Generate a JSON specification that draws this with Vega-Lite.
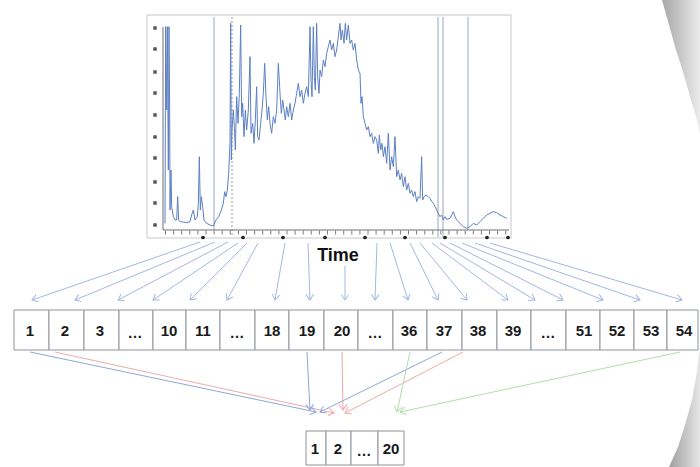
{
  "$schema": "https://vega.github.io/schema/vega-lite/v6.json",
  "width": 700,
  "height": 467,
  "autosize": {"type": "fit", "contains": "padding"},
  "padding": 0,
  "background": "#ffffff",
  "config": {"view": {"stroke": null}},
  "datasets": {
    "bandTop": [
      {"y": 0, "x": 662, "x2": 700}, {"y": 25, "x": 669, "x2": 700}, {"y": 50, "x": 676, "x2": 700},
      {"y": 75, "x": 684, "x2": 700}, {"y": 100, "x": 691, "x2": 700}, {"y": 120, "x": 697, "x2": 700}, {"y": 135, "x": 700, "x2": 700}
    ],
    "bandBottom": [
      {"y": 345, "x": 700, "x2": 700}, {"y": 372, "x": 697, "x2": 700}, {"y": 400, "x": 692, "x2": 700},
      {"y": 425, "x": 685, "x2": 700}, {"y": 447, "x": 678, "x2": 700}, {"y": 467, "x": 669, "x2": 700}
    ],
    "frame": [{"x": 147, "x2": 511, "y": 15, "y2": 238}],
    "cells": [
      {"x": 14, "x2": 49, "y": 310, "y2": 350}, {"x": 49, "x2": 84, "y": 310, "y2": 350},
      {"x": 84, "x2": 119, "y": 310, "y2": 350}, {"x": 119, "x2": 153, "y": 310, "y2": 350},
      {"x": 153, "x2": 186, "y": 310, "y2": 350}, {"x": 186, "x2": 220, "y": 310, "y2": 350},
      {"x": 220, "x2": 255, "y": 310, "y2": 350}, {"x": 255, "x2": 289, "y": 310, "y2": 350},
      {"x": 289, "x2": 324, "y": 310, "y2": 350}, {"x": 324, "x2": 358, "y": 310, "y2": 350},
      {"x": 358, "x2": 393, "y": 310, "y2": 350}, {"x": 393, "x2": 427, "y": 310, "y2": 350},
      {"x": 427, "x2": 462, "y": 310, "y2": 350}, {"x": 462, "x2": 497, "y": 310, "y2": 350},
      {"x": 497, "x2": 531, "y": 310, "y2": 350}, {"x": 531, "x2": 566, "y": 310, "y2": 350},
      {"x": 566, "x2": 600, "y": 310, "y2": 350}, {"x": 600, "x2": 634, "y": 310, "y2": 350},
      {"x": 634, "x2": 667, "y": 310, "y2": 350}, {"x": 667, "x2": 698, "y": 310, "y2": 350},
      {"x": 306, "x2": 326, "y": 431, "y2": 465}, {"x": 326, "x2": 351, "y": 431, "y2": 465},
      {"x": 351, "x2": 378, "y": 431, "y2": 465}, {"x": 378, "x2": 404, "y": 431, "y2": 465}
    ],
    "axes": [
      {"x": 163, "y": 27, "x2": 163, "y2": 230},
      {"x": 163, "y": 230, "x2": 509, "y2": 230}
    ],
    "xticks": [{"x": 165, "y": 232.5, "x2": 509, "y2": 232.5}],
    "vlines": [
      {"x": 214, "y": 17, "x2": 214, "y2": 230},
      {"x": 438, "y": 17, "x2": 438, "y2": 237},
      {"x": 443, "y": 17, "x2": 443, "y2": 237},
      {"x": 468, "y": 17, "x2": 468, "y2": 230}
    ],
    "dotline": [{"x": 232, "y": 17, "x2": 232, "y2": 236}],
    "ymarks": [
      {"x": 155, "y": 28}, {"x": 155, "y": 49}, {"x": 155, "y": 72}, {"x": 155, "y": 93}, {"x": 155, "y": 115},
      {"x": 155, "y": 137}, {"x": 155, "y": 158}, {"x": 155, "y": 182}, {"x": 155, "y": 203}, {"x": 155, "y": 225}
    ],
    "xdots": [
      {"x": 203, "y": 237.5}, {"x": 243, "y": 237.5}, {"x": 283, "y": 237.5}, {"x": 325, "y": 237.5}, {"x": 365, "y": 237.5},
      {"x": 405, "y": 237.5}, {"x": 445, "y": 237.5}, {"x": 487, "y": 237.5}, {"x": 508, "y": 237.5}
    ],
    "arrows": [
      {"x": 200, "y": 242, "x2": 32, "y2": 300, "kind": "fan"},
      {"x": 215, "y": 242, "x2": 75, "y2": 300, "kind": "fan"},
      {"x": 228, "y": 242, "x2": 118, "y2": 300, "kind": "fan"},
      {"x": 238, "y": 243, "x2": 153, "y2": 300, "kind": "fan"},
      {"x": 247, "y": 243, "x2": 190, "y2": 300, "kind": "fan"},
      {"x": 258, "y": 243, "x2": 227, "y2": 300, "kind": "fan"},
      {"x": 285, "y": 243, "x2": 275, "y2": 300, "kind": "fan"},
      {"x": 308, "y": 243, "x2": 310, "y2": 300, "kind": "fan"},
      {"x": 345, "y": 266, "x2": 345, "y2": 300, "kind": "fan"},
      {"x": 377, "y": 243, "x2": 375, "y2": 300, "kind": "fan"},
      {"x": 390, "y": 243, "x2": 408, "y2": 300, "kind": "fan"},
      {"x": 410, "y": 243, "x2": 438, "y2": 300, "kind": "fan"},
      {"x": 420, "y": 243, "x2": 467, "y2": 300, "kind": "fan"},
      {"x": 432, "y": 243, "x2": 508, "y2": 300, "kind": "fan"},
      {"x": 440, "y": 243, "x2": 535, "y2": 300, "kind": "fan"},
      {"x": 450, "y": 243, "x2": 563, "y2": 300, "kind": "fan"},
      {"x": 462, "y": 243, "x2": 603, "y2": 300, "kind": "fan"},
      {"x": 475, "y": 243, "x2": 640, "y2": 300, "kind": "fan"},
      {"x": 490, "y": 243, "x2": 682, "y2": 300, "kind": "fan"},
      {"x": 30, "y": 352, "x2": 316, "y2": 412, "kind": "blue"},
      {"x": 55, "y": 352, "x2": 334, "y2": 413, "kind": "red"},
      {"x": 307, "y": 352, "x2": 310, "y2": 410, "kind": "blue"},
      {"x": 342, "y": 352, "x2": 343, "y2": 410, "kind": "red"},
      {"x": 442, "y": 352, "x2": 320, "y2": 412, "kind": "blue"},
      {"x": 463, "y": 352, "x2": 345, "y2": 413, "kind": "red"},
      {"x": 410, "y": 352, "x2": 397, "y2": 412, "kind": "green"},
      {"x": 680, "y": 352, "x2": 400, "y2": 412, "kind": "green"}
    ],
    "labels": [
      {"x": 30, "y": 331, "label": "1"}, {"x": 65, "y": 331, "label": "2"}, {"x": 100, "y": 331, "label": "3"},
      {"x": 135, "y": 333, "label": "…"}, {"x": 169, "y": 331, "label": "10"}, {"x": 203, "y": 331, "label": "11"},
      {"x": 237, "y": 333, "label": "…"}, {"x": 272, "y": 331, "label": "18"}, {"x": 307, "y": 331, "label": "19"},
      {"x": 342, "y": 331, "label": "20"}, {"x": 375, "y": 333, "label": "…"}, {"x": 409, "y": 331, "label": "36"},
      {"x": 444, "y": 331, "label": "37"}, {"x": 478, "y": 331, "label": "38"}, {"x": 513, "y": 331, "label": "39"},
      {"x": 548, "y": 333, "label": "…"}, {"x": 584, "y": 331, "label": "51"}, {"x": 617, "y": 331, "label": "52"},
      {"x": 651, "y": 331, "label": "53"}, {"x": 684, "y": 331, "label": "54"},
      {"x": 315, "y": 449, "label": "1"}, {"x": 338, "y": 449, "label": "2"}, {"x": 364, "y": 451, "label": "…"},
      {"x": 391, "y": 449, "label": "20"}
    ],
    "title": [{"x": 338, "y": 256, "label": "Time"}],
    "series": [
      {"t": 5, "v": 20}, {"t": 7, "v": 610}, {"t": 10, "v": 360}, {"t": 12, "v": 610}, {"t": 15, "v": 180},
      {"t": 17, "v": 610}, {"t": 19, "v": 360}, {"t": 20, "v": 60}, {"t": 23, "v": 180}, {"t": 25, "v": 70},
      {"t": 30, "v": 40}, {"t": 35, "v": 30}, {"t": 40, "v": 30}, {"t": 43, "v": 100}, {"t": 46, "v": 30},
      {"t": 50, "v": 25}, {"t": 60, "v": 24}, {"t": 70, "v": 22}, {"t": 80, "v": 25}, {"t": 85, "v": 45},
      {"t": 90, "v": 60}, {"t": 95, "v": 30}, {"t": 102, "v": 40}, {"t": 105, "v": 80}, {"t": 108, "v": 220},
      {"t": 111, "v": 60}, {"t": 114, "v": 100}, {"t": 118, "v": 70}, {"t": 122, "v": 30}, {"t": 130, "v": 20},
      {"t": 140, "v": 15}, {"t": 150, "v": 12}, {"t": 158, "v": 30}, {"t": 166, "v": 40}, {"t": 174, "v": 60},
      {"t": 180, "v": 80}, {"t": 184, "v": 115}, {"t": 188, "v": 100}, {"t": 192, "v": 120}, {"t": 196, "v": 170},
      {"t": 200, "v": 260}, {"t": 202, "v": 620}, {"t": 204, "v": 210}, {"t": 206, "v": 300}, {"t": 210, "v": 360},
      {"t": 213, "v": 310}, {"t": 216, "v": 240}, {"t": 220, "v": 400}, {"t": 224, "v": 320}, {"t": 228, "v": 410},
      {"t": 232, "v": 615}, {"t": 235, "v": 340}, {"t": 238, "v": 380}, {"t": 242, "v": 280}, {"t": 246, "v": 360},
      {"t": 250, "v": 300}, {"t": 255, "v": 360}, {"t": 260, "v": 520}, {"t": 263, "v": 290}, {"t": 268, "v": 320},
      {"t": 272, "v": 260}, {"t": 276, "v": 330}, {"t": 280, "v": 430}, {"t": 283, "v": 280}, {"t": 287, "v": 270},
      {"t": 292, "v": 320}, {"t": 296, "v": 360}, {"t": 300, "v": 410}, {"t": 304, "v": 500}, {"t": 308, "v": 400},
      {"t": 312, "v": 330}, {"t": 316, "v": 370}, {"t": 320, "v": 320}, {"t": 325, "v": 290}, {"t": 330, "v": 340},
      {"t": 335, "v": 320}, {"t": 340, "v": 360}, {"t": 345, "v": 500}, {"t": 350, "v": 410}, {"t": 354, "v": 350},
      {"t": 358, "v": 390}, {"t": 362, "v": 360}, {"t": 366, "v": 330}, {"t": 370, "v": 370}, {"t": 375, "v": 340},
      {"t": 380, "v": 380}, {"t": 385, "v": 330}, {"t": 390, "v": 360}, {"t": 395, "v": 380}, {"t": 400, "v": 410},
      {"t": 405, "v": 440}, {"t": 410, "v": 400}, {"t": 415, "v": 420}, {"t": 420, "v": 380}, {"t": 425, "v": 410},
      {"t": 430, "v": 430}, {"t": 435, "v": 400}, {"t": 440, "v": 610}, {"t": 443, "v": 450}, {"t": 446, "v": 400},
      {"t": 450, "v": 610}, {"t": 453, "v": 460}, {"t": 456, "v": 420}, {"t": 460, "v": 620}, {"t": 463, "v": 460},
      {"t": 467, "v": 410}, {"t": 470, "v": 480}, {"t": 475, "v": 460}, {"t": 480, "v": 510}, {"t": 485, "v": 490},
      {"t": 490, "v": 530}, {"t": 495, "v": 550}, {"t": 500, "v": 570}, {"t": 505, "v": 540}, {"t": 510, "v": 560},
      {"t": 515, "v": 520}, {"t": 520, "v": 540}, {"t": 525, "v": 580}, {"t": 530, "v": 620}, {"t": 533, "v": 570},
      {"t": 537, "v": 600}, {"t": 542, "v": 560}, {"t": 546, "v": 620}, {"t": 550, "v": 570}, {"t": 555, "v": 615},
      {"t": 560, "v": 560}, {"t": 565, "v": 570}, {"t": 570, "v": 540}, {"t": 575, "v": 560}, {"t": 580, "v": 510},
      {"t": 585, "v": 480}, {"t": 590, "v": 470}, {"t": 593, "v": 380}, {"t": 596, "v": 400}, {"t": 600, "v": 340},
      {"t": 605, "v": 320}, {"t": 610, "v": 300}, {"t": 615, "v": 310}, {"t": 620, "v": 280}, {"t": 625, "v": 290},
      {"t": 630, "v": 260}, {"t": 635, "v": 280}, {"t": 640, "v": 270}, {"t": 645, "v": 230}, {"t": 648, "v": 285},
      {"t": 652, "v": 240}, {"t": 656, "v": 260}, {"t": 660, "v": 220}, {"t": 665, "v": 250}, {"t": 670, "v": 200},
      {"t": 675, "v": 290}, {"t": 680, "v": 180}, {"t": 685, "v": 220}, {"t": 690, "v": 190}, {"t": 695, "v": 280},
      {"t": 700, "v": 160}, {"t": 705, "v": 180}, {"t": 710, "v": 150}, {"t": 715, "v": 170}, {"t": 720, "v": 130},
      {"t": 725, "v": 160}, {"t": 730, "v": 120}, {"t": 735, "v": 140}, {"t": 740, "v": 110}, {"t": 745, "v": 120},
      {"t": 750, "v": 100}, {"t": 755, "v": 115}, {"t": 760, "v": 85}, {"t": 765, "v": 100}, {"t": 770, "v": 95},
      {"t": 775, "v": 220}, {"t": 778, "v": 90}, {"t": 782, "v": 100}, {"t": 788, "v": 105}, {"t": 795, "v": 100},
      {"t": 800, "v": 95}, {"t": 805, "v": 85}, {"t": 810, "v": 80}, {"t": 815, "v": 70}, {"t": 820, "v": 60},
      {"t": 825, "v": 50}, {"t": 830, "v": 40}, {"t": 835, "v": 45}, {"t": 840, "v": 30}, {"t": 845, "v": 40},
      {"t": 850, "v": 32}, {"t": 860, "v": 35}, {"t": 870, "v": 55}, {"t": 875, "v": 40}, {"t": 880, "v": 30},
      {"t": 890, "v": 20}, {"t": 900, "v": 10}, {"t": 910, "v": 5}, {"t": 920, "v": 10}, {"t": 930, "v": 20},
      {"t": 940, "v": 15}, {"t": 950, "v": 25}, {"t": 960, "v": 35}, {"t": 970, "v": 45}, {"t": 980, "v": 50},
      {"t": 990, "v": 55}, {"t": 1000, "v": 52}, {"t": 1010, "v": 45}, {"t": 1020, "v": 40}, {"t": 1030, "v": 35}
    ]
  },
  "layer": [
    {
      "encoding": {
        "x": {"field": "x", "type": "quantitative", "scale": {"domain": [0, 700], "nice": false, "zero": false}, "axis": null},
        "y": {"field": "y", "type": "quantitative", "scale": {"domain": [467, 0], "nice": false, "zero": false}, "axis": null}
      },
      "layer": [
        {
          "data": {"name": "bandTop"},
          "mark": {"type": "area", "orient": "horizontal", "color": {"gradient": "linear", "x1": 0, "y1": 0, "x2": 1, "y2": 0, "stops": [{"offset": 0, "color": "#a8a8a8"}, {"offset": 0.5, "color": "#c8c8c8"}, {"offset": 1, "color": "#ececec"}]}},
          "encoding": {"x2": {"field": "x2"}}
        },
        {
          "data": {"name": "bandBottom"},
          "mark": {"type": "area", "orient": "horizontal", "color": {"gradient": "linear", "x1": 0, "y1": 0, "x2": 1, "y2": 0, "stops": [{"offset": 0, "color": "#a0a0a0"}, {"offset": 0.5, "color": "#c2c2c2"}, {"offset": 1, "color": "#e6e6e6"}]}},
          "encoding": {"x2": {"field": "x2"}}
        },
        {
          "data": {"name": "frame"},
          "mark": {"type": "rect", "filled": false, "stroke": "#c6c6c6", "strokeWidth": 1},
          "encoding": {"x2": {"field": "x2"}, "y2": {"field": "y2"}}
        },
        {
          "data": {"name": "cells"},
          "mark": {"type": "rect", "fill": "#ffffff", "stroke": "#8e939c", "strokeWidth": 1},
          "encoding": {"x2": {"field": "x2"}, "y2": {"field": "y2"}}
        },
        {
          "data": {"name": "vlines"},
          "mark": {"type": "rule", "color": "#9aa5c2", "strokeWidth": 1},
          "encoding": {"x2": {"field": "x2"}, "y2": {"field": "y2"}}
        },
        {
          "data": {"name": "dotline"},
          "mark": {"type": "rule", "color": "#9a9a9a", "strokeWidth": 1, "strokeDash": [2, 2]},
          "encoding": {"x2": {"field": "x2"}, "y2": {"field": "y2"}}
        },
        {
          "data": {"name": "axes"},
          "mark": {"type": "rule", "color": "#6e6e6e", "strokeWidth": 1},
          "encoding": {"x2": {"field": "x2"}, "y2": {"field": "y2"}}
        },
        {
          "data": {"name": "xticks"},
          "mark": {"type": "rule", "color": "#7a7a7a", "strokeWidth": 4, "strokeDash": [1, 7.1]},
          "encoding": {"x2": {"field": "x2"}, "y2": {"field": "y2"}}
        },
        {
          "data": {"name": "ymarks"},
          "mark": {"type": "point", "shape": "square", "filled": true, "size": 12, "color": "#3a3a3a", "opacity": 0.85},
          "encoding": {}
        },
        {
          "data": {"name": "xdots"},
          "mark": {"type": "point", "shape": "circle", "filled": true, "size": 14, "color": "#222222", "opacity": 1},
          "encoding": {}
        },
        {
          "data": {"name": "arrows"},
          "mark": {"type": "rule", "strokeWidth": 1},
          "encoding": {
            "x2": {"field": "x2"},
            "y2": {"field": "y2"},
            "color": {"field": "kind", "type": "nominal", "scale": {"domain": ["fan", "blue", "red", "green"], "range": ["#a4b7e0", "#8ea7d6", "#eeaaaa", "#b4dcac"]}, "legend": null}
          }
        },
        {
          "data": {"name": "arrows"},
          "transform": [{"calculate": "atan2(datum.y2 - datum.y, datum.x2 - datum.x) * 180 / PI", "as": "ang"}],
          "mark": {"type": "point", "shape": "M-1.6,-1.1L0,0L-1.6,1.1", "filled": false, "size": 48, "strokeWidth": 1, "opacity": 1},
          "encoding": {
            "x": {"field": "x2", "type": "quantitative", "scale": {"domain": [0, 700], "nice": false, "zero": false}, "axis": null},
            "y": {"field": "y2", "type": "quantitative", "scale": {"domain": [467, 0], "nice": false, "zero": false}, "axis": null},
            "angle": {"field": "ang", "type": "quantitative", "scale": null},
            "color": {"field": "kind", "type": "nominal", "scale": {"domain": ["fan", "blue", "red", "green"], "range": ["#a4b7e0", "#8ea7d6", "#eeaaaa", "#b4dcac"]}, "legend": null}
          }
        },
        {
          "data": {"name": "labels"},
          "mark": {"type": "text", "font": "Liberation Sans Narrow, Liberation Sans, Arial, sans-serif", "fontSize": 15, "fontWeight": "bold", "color": "#1a1a1a", "align": "center", "baseline": "middle"},
          "encoding": {"text": {"field": "label", "type": "nominal"}}
        },
        {
          "data": {"name": "title"},
          "mark": {"type": "text", "font": "Liberation Sans Narrow, Liberation Sans, Arial, sans-serif", "fontSize": 18, "fontWeight": "bold", "color": "#111111", "align": "center", "baseline": "middle"},
          "encoding": {"text": {"field": "label", "type": "nominal"}}
        }
      ]
    },
    {
      "data": {"name": "series"},
      "mark": {"type": "line", "color": "#5d80c4", "strokeWidth": 1, "interpolate": "linear"},
      "encoding": {
        "x": {"field": "t", "type": "quantitative", "scale": {"domain": [-490, 1610], "nice": false, "zero": false}, "axis": null},
        "y": {"field": "v", "type": "quantitative", "scale": {"domain": [-711, 690], "nice": false, "zero": false}, "axis": null}
      }
    }
  ],
  "resolve": {"scale": {"x": "independent", "y": "independent"}}
}
